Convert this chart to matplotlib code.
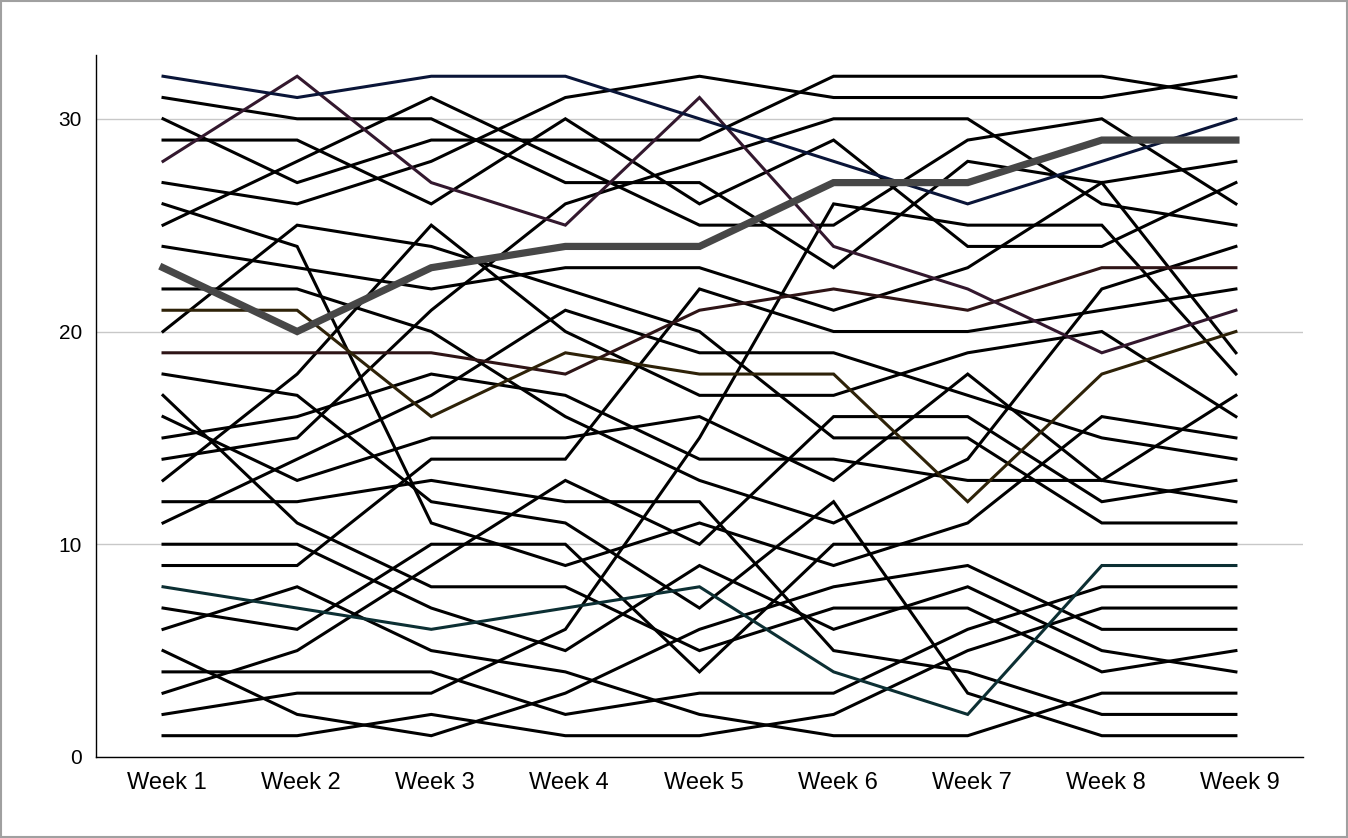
import matplotlib.pyplot as plt
from matplotlib.patches import Rectangle
from matplotlib.transforms import ScaledTranslation

weeks = ["Week 1", "Week 2", "Week 3", "Week 4", "Week 5",
         "Week 6", "Week 7", "Week 8", "Week 9"]

# highlighted series
navy = [32, 31, 32, 32, 30, 28, 26, 28, 30]
purple = [28, 32, 27, 25, 31, 24, 22, 19, 21]
grey = [23, 20, 23, 24, 24, 27, 27, 29, 29]
olive = [21, 21, 16, 19, 18, 18, 12, 18, 20]
maroon = [19, 19, 19, 18, 21, 22, 21, 23, 23]
teal = [8, 7, 6, 7, 8, 4, 2, 9, 9]

# the rest, all drawn in black
others = [
    [31, 30, 30, 27, 27, 23, 28, 27, 28],
    [30, 27, 29, 29, 29, 32, 32, 32, 31],
    [29, 29, 26, 30, 26, 29, 24, 24, 27],
    [27, 26, 28, 31, 32, 31, 31, 31, 32],
    [26, 24, 11, 9, 11, 9, 11, 16, 15],
    [25, 28, 31, 28, 25, 25, 29, 30, 26],
    [24, 23, 22, 23, 23, 21, 23, 27, 19],
    [22, 22, 20, 16, 13, 11, 14, 22, 24],
    [20, 25, 24, 22, 20, 15, 15, 11, 11],
    [18, 17, 12, 11, 7, 12, 3, 1, 1],
    [17, 11, 8, 8, 5, 7, 7, 4, 5],
    [16, 13, 15, 15, 16, 13, 18, 13, 17],
    [15, 16, 18, 17, 14, 14, 13, 13, 12],
    [14, 15, 21, 26, 28, 30, 30, 26, 25],
    [13, 18, 25, 20, 17, 17, 19, 20, 16],
    [12, 12, 13, 12, 12, 5, 4, 2, 2],
    [11, 14, 17, 21, 19, 19, 17, 15, 14],
    [10, 10, 7, 5, 9, 6, 8, 5, 4],
    [9, 9, 14, 14, 22, 20, 20, 21, 22],
    [7, 6, 10, 10, 4, 10, 10, 10, 10],
    [6, 8, 5, 4, 2, 1, 1, 3, 3],
    [5, 2, 1, 3, 6, 8, 9, 6, 6],
    [4, 4, 4, 2, 3, 3, 6, 8, 8],
    [3, 5, 9, 13, 10, 16, 16, 12, 13],
    [2, 3, 3, 6, 15, 26, 25, 25, 18],
    [1, 1, 2, 1, 1, 2, 5, 7, 7],
]

plt.rcParams['font.family'] = ['Liberation Sans', 'DejaVu Sans']

fig = plt.figure(figsize=(13.48, 8.38), dpi=100)
ax = fig.add_axes([0.0712, 0.0967, 0.8954, 0.8377])
x = list(range(len(weeks)))

for s in others:
    ax.plot(x, s, color='black', lw=2.2, solid_joinstyle='miter', zorder=3)

for s, c in [(maroon, '#2e1416'), (olive, '#2e2208'), (teal, '#0c2f33'),
             (purple, '#33182e'), (navy, '#0a1538')]:
    ax.plot(x, s, color=c, lw=2.2, solid_joinstyle='miter', zorder=4)
ax.plot(x, grey, color='#474747', lw=5.2, solid_joinstyle='miter', zorder=5)

ax.set_xlim(-0.5, 8.5)
ax.set_ylim(0, 33)
ax.set_yticks([0, 10, 20, 30])
ax.set_xticks(x)
ax.set_xticklabels(weeks)
ax.yaxis.grid(True, color='#c8c8c8', lw=1)
ax.set_axisbelow(True)
ax.tick_params(length=0, colors='black')
ax.tick_params(axis='x', pad=11, labelsize=17)
ax.tick_params(axis='y', pad=10, labelsize=15)
for lab in ax.get_xticklabels():
    lab.set_transform(lab.get_transform() + ScaledTranslation(0.04, 0, fig.dpi_scale_trans))
for side in ['top', 'right']:
    ax.spines[side].set_visible(False)
for side in ['left', 'bottom']:
    ax.spines[side].set_color('black')
    ax.spines[side].set_linewidth(1)

fig.patches.append(Rectangle((0.0008, 0.0012), 0.9984, 0.9976, transform=fig.transFigure,
                             fill=False, edgecolor='#a0a0a0', lw=1.5))

fig.savefig('out.png', dpi=100)
